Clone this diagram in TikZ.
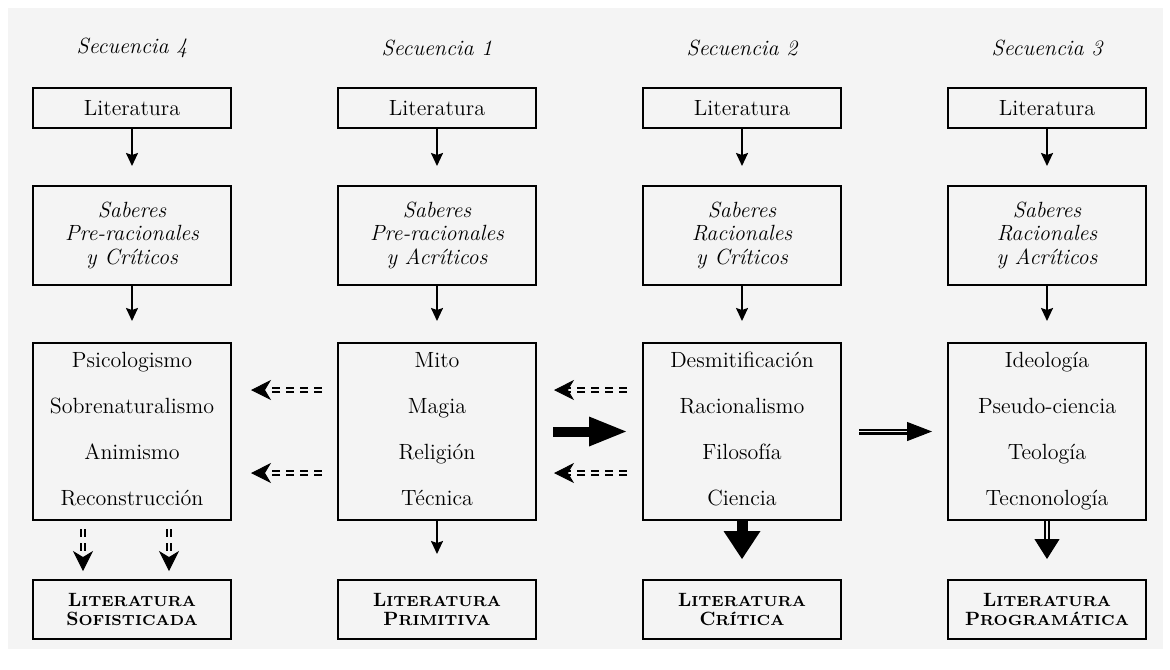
\documentclass[tikz,border=0pt]{standalone}
\usetikzlibrary{arrows.meta, calc}
\definecolor{paper}{gray}{0.955}
\tikzset{
  box/.style={draw, line width=1pt, inner sep=0pt, minimum width=99pt, align=center, font=\fontsize{11}{13}\selectfont},
  sec/.style={font=\itshape\fontsize{11}{13}\selectfont},
  lit/.style={box, minimum height=20pt},
  sab/.style={box, minimum height=49.5pt, font=\itshape\fontsize{11}{11.75}\selectfont},
  big/.style={box, minimum height=88.5pt, font=\fontsize{11}{23}\selectfont},
  res/.style={box, minimum height=29.5pt, font=\bfseries\fontsize{10}{9.5}\selectfont},
  arr/.style={line width=0.9pt, -{Stealth[length=6.5pt, width=6pt, inset=1pt]}},
  ddash/.style={draw, line width=1pt, double=paper, double distance=1pt, dash pattern=on 4pt off 3pt},
  ddtip/.style={line width=0.5pt, -{Stealth[length=10pt, width=10pt, inset=3pt]}},
  dbl/.style={draw, line width=1.1pt, double=paper, double distance=0.8pt},
  dbltiph/.style={line width=0.5pt, -{Triangle[length=12.5pt, width=9.5pt]}},
  dbltipv/.style={line width=0.5pt, -{Triangle[length=10pt, width=12.5pt]}},
}
% versalitas a mano
\newcommand{\vers}[2]{{\fontsize{9.6}{9.5}\selectfont #1}{\fontsize{7.3}{9.5}\selectfont #2}}
% altura fija de la primera y la ultima linea
\newcommand{\arriba}{\rule{0pt}{8pt}}
\newcommand{\abajo}{\rule[-3pt]{0pt}{3pt}}
% cuerpo doble o punteado + punta aparte
\newcommand{\puntaflecha}[4]{%
  \draw[#1] (#3) -- ($(#4)!4pt!(#3)$);
  \draw[#2] ($(#4)!1pt!(#3)$) -- (#4);}

\begin{document}
\begin{tikzpicture}[x=0.5pt, y=-0.5pt, node distance=152.5pt]
    % fondo
    \fill[white] (0,0) rectangle (1170,669);
    \fill[paper] (8,8) rectangle (1163,649);

    % cabeceras
    \node[sec] (Sec4) at (132,48) {Secuencia 4};
    \node[sec, right of=Sec4] (Sec1) {Secuencia 1};
    \node[sec, right of=Sec1] (Sec2) {Secuencia 2};
    \node[sec, right of=Sec2] (Sec3) {Secuencia 3};

    % Literatura
    \foreach \c in {4,1,2,3}
        \node[lit, below of=Sec\c, node distance=30pt] (Lit\c) {Literatura};

    % saberes
    \node[sab, below of=Lit4, node distance=63.75pt] (Sab4) {\arriba Saberes\\Pre-racionales\\y Cr\'iticos\abajo};
    \node[sab, below of=Lit1, node distance=63.75pt] (Sab1) {\arriba Saberes\\Pre-racionales\\y Acr\'iticos\abajo};
    \node[sab, below of=Lit2, node distance=63.75pt] (Sab2) {\arriba Saberes\\Racionales\\y Cr\'iticos\abajo};
    \node[sab, below of=Lit3, node distance=63.75pt] (Sab3) {\arriba Saberes\\Racionales\\y Acr\'iticos\abajo};

    % contenidos
    \node[big, below of=Sab4, node distance=98pt] (Big4) {\arriba Psicologismo\\Sobrenaturalismo\\Animismo\\Reconstrucci\'on\abajo};
    \node[big, below of=Sab1, node distance=98pt] (Big1) {\arriba Mito\\Magia\\Religi\'on\\T\'ecnica\abajo};
    \node[big, below of=Sab2, node distance=98pt] (Big2) {\arriba Desmitificaci\'on\\Racionalismo\\Filosof\'ia\\Ciencia\abajo};
    \node[big, below of=Sab3, node distance=98pt] (Big3) {\arriba Ideolog\'ia\\Pseudo-ciencia\\Teolog\'ia\\Tecnonolog\'ia\abajo};

    % resultados
    \node[res, below of=Big4, node distance=89pt] (Res4) {\vers{L}{ITERATURA}\\\vers{S}{OFISTICADA}};
    \node[res, below of=Big1, node distance=89pt] (Res1) {\vers{L}{ITERATURA}\\\vers{P}{RIMITIVA}};
    \node[res, below of=Big2, node distance=89pt] (Res2) {\vers{L}{ITERATURA}\\\vers{C}{R\'ITICA}};
    \node[res, below of=Big3, node distance=89pt] (Res3) {\vers{L}{ITERATURA}\\\vers{P}{ROGRAM\'ATICA}};

    % flechas verticales
    \foreach \c in {4,1,2,3} {
        \draw[arr, shorten >=9.5pt] (Lit\c) -- (Sab\c);
        \draw[arr, shorten >=10.5pt] (Sab\c) -- (Big\c);
    }
    \draw[arr, shorten >=12.5pt] (Big1) -- (Res1);
    \draw[line width=5.5pt, -{Triangle[length=14pt, width=18.5pt, line width=0pt]}, shorten >=10pt] (Big2) -- (Res2);

    \coordinate (v3b) at ([yshift=10pt]Res3.north);
    \puntaflecha{dbl}{dbltipv}{Big3.south}{v3b}

    \coordinate (v4a) at ([xshift=-24.5pt, yshift=-4pt]Big4.south);
    \coordinate (v4b) at ([xshift=-24.5pt, yshift=4pt]Res4.north);
    \coordinate (v4c) at ([xshift=18.5pt, yshift=-4pt]Big4.south);
    \coordinate (v4d) at ([xshift=18.5pt, yshift=4pt]Res4.north);
    \puntaflecha{ddash}{ddtip}{v4a}{v4b}
    \puntaflecha{ddash}{ddtip}{v4c}{v4d}

    % flechas horizontales
    \foreach \s [count=\i] in {20.75pt,-20.75pt} {
        \coordinate (a\i) at ([xshift=-7.5pt, yshift=\s]Big1.west);
        \coordinate (b\i) at ([xshift=9.5pt, yshift=\s]Big4.east);
        \coordinate (c\i) at ([xshift=-7.5pt, yshift=\s]Big2.west);
        \coordinate (d\i) at ([xshift=8.5pt, yshift=\s]Big1.east);
    }
    \puntaflecha{ddash}{ddtip}{a1}{b1}
    \puntaflecha{ddash}{ddtip}{a2}{b2}
    \puntaflecha{ddash}{ddtip}{c1}{d1}
    \puntaflecha{ddash}{ddtip}{c2}{d2}

    \draw[line width=5pt, -{Triangle[length=18.5pt, width=15pt, line width=0pt]}]
        ([xshift=8pt]Big1.east) -- ([xshift=-8pt]Big2.west);

    \coordinate (h2a) at ([xshift=8.5pt]Big2.east);
    \coordinate (h2b) at ([xshift=-7.5pt]Big3.west);
    \puntaflecha{dbl}{dbltiph}{h2a}{h2b}
\end{tikzpicture}
\end{document}
